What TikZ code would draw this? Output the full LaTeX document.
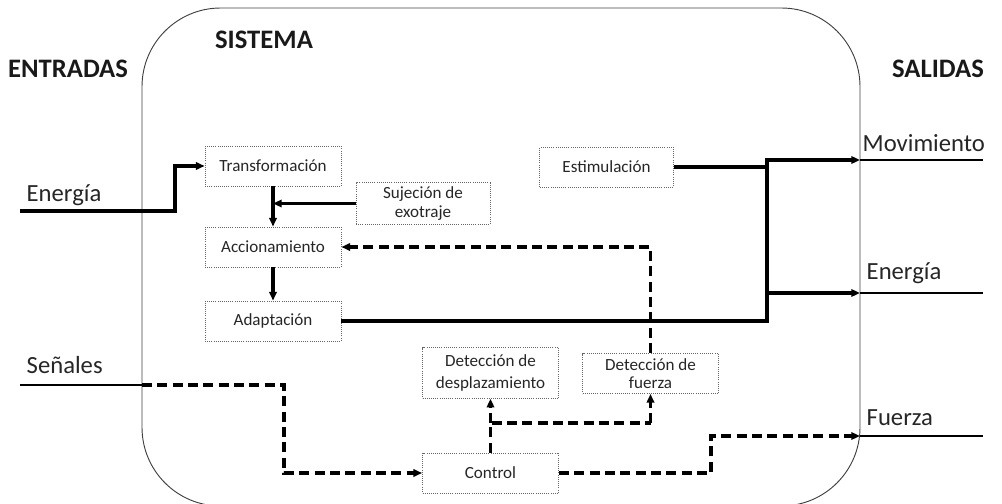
\documentclass[tikz,border=0pt]{standalone}
\usepackage{fontspec}
\setmainfont{Carlito}
\usetikzlibrary{arrows.meta}
\begin{document}
\begin{tikzpicture}[x=0.75pt,y=-0.75pt,
  block/.style={draw=black!60, densely dotted, line width=0.6pt, inner sep=0pt,
    align=center, minimum width=102pt, minimum height=30pt,
    font=\fontsize{12.8}{14}\selectfont, text=black!85},
  title/.style={font=\fontsize{20}{24}\selectfont\bfseries, text=black!90},
  ioname/.style={font=\fontsize{18.5}{22}\selectfont, text=black!85, anchor=west},
  flow/.style={line width=2.4pt, -{Triangle[length=6.5pt,width=5.5pt]}},
  flowline/.style={line width=2.4pt},
  dflow/.style={line width=2.4pt, dash pattern=on 7.5pt off 4pt, -{Triangle[length=6.5pt,width=5.5pt]}},
  dline/.style={line width=2.4pt, dash pattern=on 7.5pt off 4pt},
  outline/.style={line width=1.7pt},
  sysline/.style={draw=black!75, line width=0.7pt}]
\useasboundingbox (0,0) rectangle (1002,503);

% system boundary (its lower edge runs past the page)
\begin{scope}
  \clip (0,0) rectangle (1002,503);
  \draw[sysline, rounded corners=59pt] (142,8) rectangle (860,506);
\end{scope}

% headings
\node[title] (tin)  at (68,69)  {ENTRADAS};
\node[title] (tsys) at (264,40) {SISTEMA};
\node[title] (tout) at (938,69) {SALIDAS};

% functional blocks
\node[block] (trans) at (273,166) {Transformación};
\node[block, minimum width=100.5pt, minimum height=31pt] (suj) at (423,203.5) {Sujeción de\\exotraje};
\node[block] (acc)   at (273,247) {Accionamiento};
\node[block] (adap)  at (273,321) {Adaptación};
\node[block, minimum width=100pt] (estim) at (606.5,167) {Estimulación};
\node[block, minimum height=38pt, font=\fontsize{12.8}{16}\selectfont] (detd) at (490.5,373) {Detección de\\desplazamiento};
\node[block] (detf)  at (650.5,373.5) {Detección de\\fuerza};
\node[block] (ctrl)  at (490.5,473) {Control};

% inputs
\node[ioname] (ien) at (22,195) {Energía};
\node[ioname] (ise) at (22,365) {Señales};
\coordinate (ein) at (20,211);
\coordinate (sin) at (20,385);
\coordinate (sedge) at (142,385);

% outputs
\node[ioname] (omovt) at (858,143) {Movimiento};
\node[ioname] (oent)  at (862,273) {Energía};
\node[ioname] (ofut)  at (862,418) {Fuerza};
\coordinate (omov) at (860,160);
\coordinate (oen)  at (860,293);
\coordinate (ofu)  at (860,436);
\coordinate (emov) at (983,160);
\coordinate (een)  at (983,293);
\coordinate (efu)  at (983,436);

% junction points
\coordinate (bus)   at (767,160);
\coordinate (cstep) at (711,436);
\coordinate (split) at (490.5,423);
\coordinate (sstep) at (284,385);

% energy path
\draw[flow] (ein) -- ++(155,0) |- (trans.west);
\draw[flow] (trans.south) -- (acc.north);
\draw[flow] (suj.west) -- (suj.west -| trans.south);
\draw[flow] (acc.south) -- (adap.north);
\draw[flow] (adap.east) -| (bus) -- (omov);
\draw[flowline] (estim.east) -- (estim.east -| bus);
\draw[flow] (bus |- oen) -- (oen);

% signal path
\draw[outline] (sin) -- (sedge);
\draw[dflow] (sedge) -- (sstep) |- (ctrl.west);
\draw[dline] (ctrl.north) -- (split) -- (split -| detf.south);
\draw[dflow] (split) -- (detd.south);
\draw[dflow] (split -| detf.south) -- (detf.south);
\draw[dflow] (detf.north) |- (acc.east);
\draw[dflow] (ctrl.east) -| (cstep) -- (ofu);

% output leads
\draw[outline] (omov) -- (emov);
\draw[outline] (oen) -- (een);
\draw[outline] (ofu) -- (efu);
\end{tikzpicture}
\end{document}
